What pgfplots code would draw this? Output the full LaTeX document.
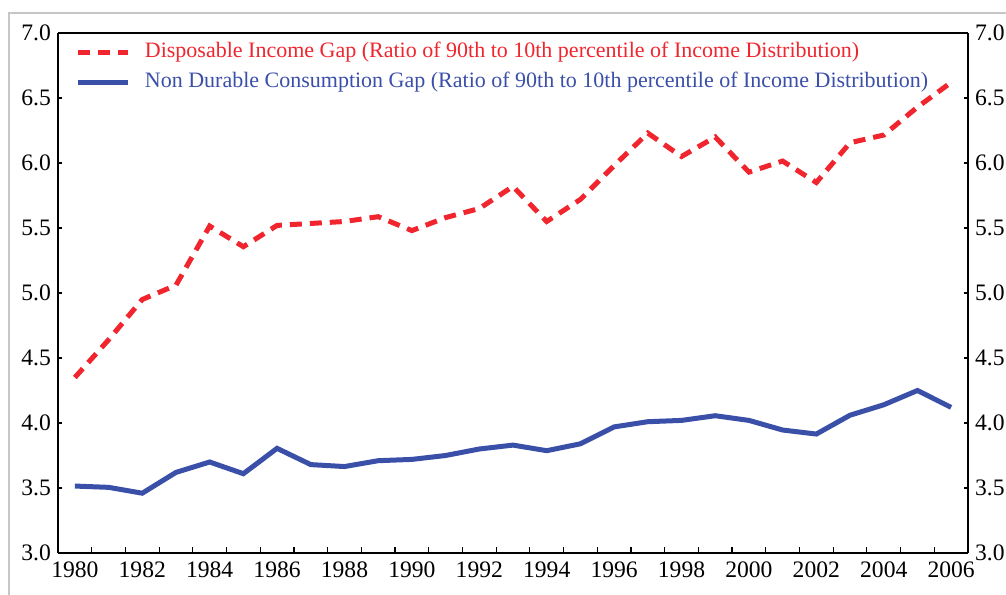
\documentclass[border=0pt]{standalone}
\usepackage{fontspec}
\setmainfont{Liberation Serif}
\usepackage{pgfplots}
\pgfplotsset{compat=1.18}

\definecolor{incred}{HTML}{F0252D}
\definecolor{consblue}{HTML}{3A4FA8}

\begin{document}
\begin{tikzpicture}
\useasboundingbox (-29pt,-20.5pt) rectangle (474pt,276.5pt);
% screenshot frame
\draw[gray!45, line width=1pt] (-24.5pt,-25pt) -- (-24.5pt,270pt) -- (480pt,270pt);

\pgfplotsset{
  common/.style={
    scale only axis, width=455pt, height=260pt,
    at={(0,0)}, anchor=south west,
    xmin=1979.5, xmax=2006.5, ymin=3, ymax=7,
    ytick={3,3.5,...,7},
    tick align=inside,
    major tick length=2pt,
    axis line style={line width=0.6pt},
    every tick/.style={black, line width=0.6pt},
    ticklabel style={font=\fontsize{11.8}{13}\selectfont},
    /pgf/number format/assume math mode=true,
    yticklabel style={/pgf/number format/.cd, fixed, fixed zerofill, precision=1},
  }
}

\begin{axis}[common,
  axis y line*=left,
  axis x line*=box,
  xtick={1980,1982,...,2006},
  xtick pos=bottom,
  major x tick style={draw=none},
  minor xtick={1980.5,1981.5,...,2005.5},
  minor tick length=3pt,
  xticklabel style={/pgf/number format/1000 sep={}, yshift=-1pt},
  legend style={draw=none, fill=none, at={(0.0187,1)}, anchor=north west,
    yshift=-2pt, inner sep=0pt,
    nodes={font=\fontsize{11}{13}\selectfont, text height=7.5pt, text depth=2pt, inner sep=2.75pt}},
  legend cell align=left,
  legend image code/.code={\draw[#1] (0pt,0pt) -- (25pt,0pt);},
]
\addplot[incred, line width=2.5pt, dash pattern=on 6pt off 4pt] coordinates {
(1980,4.35)(1981,4.64)(1982,4.95)(1983,5.06)(1984,5.515)(1985,5.356)
(1986,5.52)(1987,5.535)(1988,5.55)(1989,5.587)(1990,5.48)(1991,5.58)
(1992,5.65)(1993,5.82)(1994,5.55)(1995,5.72)(1996,5.98)(1997,6.23)
(1998,6.05)(1999,6.20)(2000,5.93)(2001,6.015)(2002,5.85)(2003,6.156)
(2004,6.215)(2005,6.43)(2006,6.62)
};
\addlegendentry{\hspace{4.5pt}\textcolor{incred}{Disposable Income Gap (Ratio of 90th to 10th percentile of Income Distribution)}}
\addplot[consblue, line width=2.5pt] coordinates {
(1980,3.515)(1981,3.505)(1982,3.46)(1983,3.62)(1984,3.70)(1985,3.61)
(1986,3.805)(1987,3.68)(1988,3.665)(1989,3.71)(1990,3.72)(1991,3.75)
(1992,3.80)(1993,3.83)(1994,3.787)(1995,3.84)(1996,3.97)(1997,4.01)
(1998,4.02)(1999,4.056)(2000,4.02)(2001,3.946)(2002,3.915)(2003,4.06)
(2004,4.14)(2005,4.25)(2006,4.12)
};
\addlegendentry{\hspace{4.5pt}\textcolor{consblue}{Non Durable Consumption Gap (Ratio of 90th to 10th percentile of Income Distribution)}}
\end{axis}

\begin{axis}[common,
  axis y line*=right,
  axis x line=none,
]
\end{axis}
\end{tikzpicture}
\end{document}
